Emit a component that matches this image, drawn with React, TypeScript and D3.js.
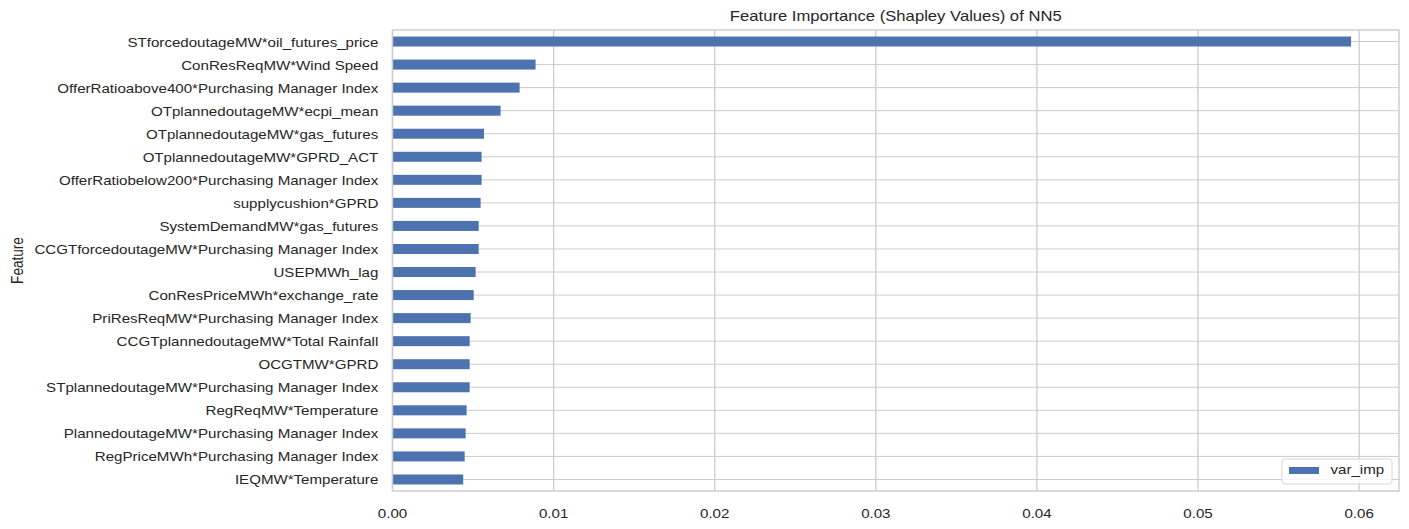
import React from 'react';
import * as d3 from 'd3';

// Feature names, top to bottom as drawn
const features = [
  'STforcedoutageMW*oil_futures_price',
  'ConResReqMW*Wind Speed',
  'OfferRatioabove400*Purchasing Manager Index',
  'OTplannedoutageMW*ecpi_mean',
  'OTplannedoutageMW*gas_futures',
  'OTplannedoutageMW*GPRD_ACT',
  'OfferRatiobelow200*Purchasing Manager Index',
  'supplycushion*GPRD',
  'SystemDemandMW*gas_futures',
  'CCGTforcedoutageMW*Purchasing Manager Index',
  'USEPMWh_lag',
  'ConResPriceMWh*exchange_rate',
  'PriResReqMW*Purchasing Manager Index',
  'CCGTplannedoutageMW*Total Rainfall',
  'OCGTMW*GPRD',
  'STplannedoutageMW*Purchasing Manager Index',
  'RegReqMW*Temperature',
  'PlannedoutageMW*Purchasing Manager Index',
  'RegPriceMWh*Purchasing Manager Index',
  'IEQMW*Temperature',
];

// Shapley importance (var_imp), same order as features
const varImp = [
  0.0595, 0.00888, 0.00789, 0.00671, 0.00568, 0.00553, 0.00553, 0.00547, 0.00535, 0.00535,
  0.00516, 0.00504, 0.00485, 0.00479, 0.00479, 0.00479, 0.0046, 0.00454, 0.00448, 0.00439,
];

const xTicks = [0, 0.01, 0.02, 0.03, 0.04, 0.05, 0.06];
const xTickLabels = ['0.00', '0.01', '0.02', '0.03', '0.04', '0.05', '0.06'];

const W = 1409;
const H = 529;
const plot = { left: 392.5, right: 1399, top: 30, bottom: 491 };

const BAR = '#4c72b0';
const GRID = '#cccccc';
const INK = '#262626';
const FONT = '"Liberation Sans", Arial, sans-serif';
// the reference is a bit wider than tall, text looks stretched sideways
const SX = 1.19;

type STextProps = {
  x: number;
  y: number;
  size: number;
  anchor?: 'start' | 'middle' | 'end';
  rotate?: boolean;
  children: React.ReactNode;
};

const SText = ({ x, y, size, anchor = 'start', rotate, children }: STextProps) => (
  <g transform={`translate(${x},${y}) scale(${SX},1)${rotate ? ' rotate(-90)' : ''}`}>
    <text textAnchor={anchor} fontSize={size} fontFamily={FONT} fill={INK}>
      {children}
    </text>
  </g>
);

const App = () => {
  const x = d3
    .scaleLinear()
    .domain([0, (d3.max(varImp) as number) * 1.05])
    .range([plot.left, plot.right]);

  const y = d3.scaleBand<string>().domain(features).range([plot.top, plot.bottom]).padding(0);
  const step = y.step();
  const barH = 10;
  const cy = (f: string) => (y(f) as number) + step / 2;

  return (
    <svg
      width={W}
      height={H}
      style={{ position: 'absolute', left: 0, top: 0, background: '#fff' }}
    >
      {/* grid */}
      {features.map((f) => (
        <line
          key={'hg' + f}
          x1={plot.left}
          x2={plot.right}
          y1={cy(f)}
          y2={cy(f)}
          stroke={GRID}
          strokeWidth={1}
        />
      ))}
      {xTicks.map((t) => (
        <line
          key={'vg' + t}
          x1={x(t)}
          x2={x(t)}
          y1={plot.top}
          y2={plot.bottom}
          stroke={GRID}
          strokeWidth={1.3}
        />
      ))}

      {/* bars */}
      {features.map((f, i) => (
        <rect
          key={'b' + f}
          x={x(0)}
          y={cy(f) - barH / 2}
          width={x(varImp[i]) - x(0)}
          height={barH}
          fill={BAR}
        />
      ))}

      {/* frame */}
      <rect
        x={plot.left}
        y={plot.top}
        width={plot.right - plot.left}
        height={plot.bottom - plot.top}
        fill="none"
        stroke={GRID}
        strokeWidth={1.4}
      />

      {/* y tick labels */}
      {features.map((f) => (
        <SText key={'yl' + f} x={378.3} y={cy(f) + 5} size={12.7} anchor="end">
          {f}
        </SText>
      ))}

      {/* x tick labels */}
      {xTicks.map((t, i) => (
        <SText key={'xl' + t} x={x(t)} y={518} size={12.7} anchor="middle">
          {xTickLabels[i]}
        </SText>
      ))}

      {/* axis label + title */}
      <SText x={23} y={(plot.top + plot.bottom) / 2} size={13.6} anchor="middle" rotate>
        Feature
      </SText>
      <SText x={(plot.left + plot.right) / 2} y={21} size={14} anchor="middle">
        Feature Importance (Shapley Values) of NN5
      </SText>

      {/* legend */}
      <rect
        x={1282}
        y={459}
        width={110}
        height={25}
        rx={3}
        fill="#fff"
        fillOpacity={0.8}
        stroke="#d6d6d6"
        strokeWidth={1}
      />
      <rect x={1289} y={467} width={30} height={7} fill={BAR} />
      <SText x={1330.5} y={474} size={12.7}>
        var_imp
      </SText>
    </svg>
  );
};

export default App;
